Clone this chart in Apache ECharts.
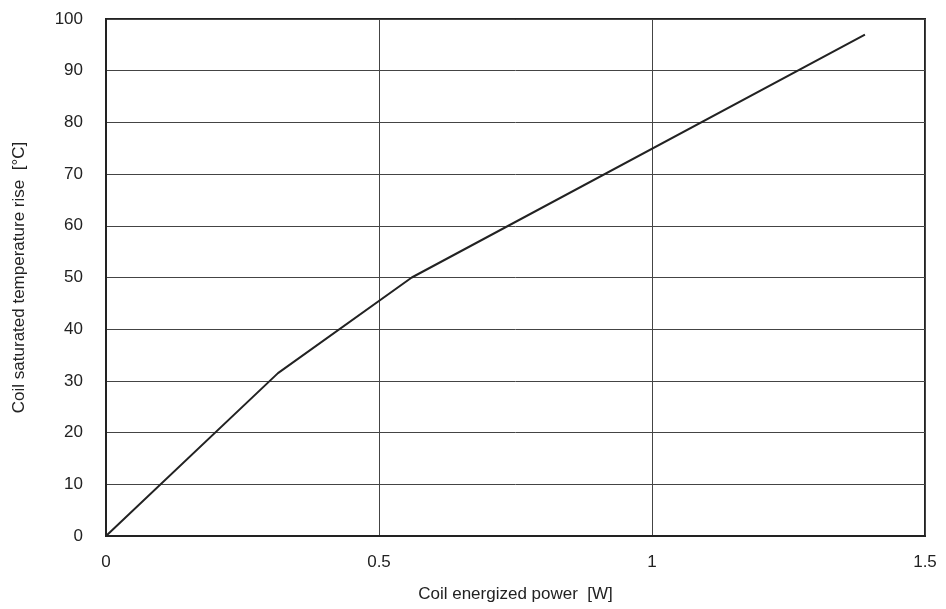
<!DOCTYPE html>
<html>
<head>
<meta charset="utf-8">
<script src="https://cdn.jsdelivr.net/npm/echarts@6/dist/echarts.min.js"></script>
<style>html,body{margin:0;padding:0;background:#fff}#c{width:946px;height:609px}</style>
</head>
<body>
<div id="c"></div>
<script>
const powerW = [0, 0.315, 0.56, 1.39];
const tempRise = [0, 31.5, 50, 97];
const xTicks = [0, 0.5, 1, 1.5];
const yTicks = [0, 10, 20, 30, 40, 50, 60, 70, 80, 90, 100];
const xTitle = 'Coil energized power  [W]';
const yTitle = 'Coil saturated temperature rise  [°C]';

const chart = echarts.init(document.getElementById('c'), null, {renderer: 'canvas'});
const font = {fontFamily: 'Liberation Sans, Arial, sans-serif', fontSize: 17, color: '#222'};
chart.setOption({
  animation: false,
  backgroundColor: '#fff',
  grid: {left: 106, right: 21, top: 19, bottom: 73, show: true, borderColor: '#222', borderWidth: 2, backgroundColor: 'transparent'},
  xAxis: {
    type: 'value', min: xTicks[0], max: xTicks[xTicks.length-1], interval: 0.5,
    name: xTitle, nameLocation: 'middle', nameGap: 50,
    nameTextStyle: font,
    axisLine: {show: true, lineStyle: {color: '#222', width: 2}},
    axisTick: {show: false},
    axisLabel: Object.assign({margin: 18, formatter: v => String(v)}, font),
    splitLine: {show: true, lineStyle: {color: '#444', width: 1}}
  },
  yAxis: {
    type: 'value', min: yTicks[0], max: yTicks[yTicks.length-1], interval: 10,
    name: yTitle, nameLocation: 'middle', nameGap: 78,
    nameTextStyle: font,
    axisLine: {show: true, lineStyle: {color: '#222', width: 2}},
    axisTick: {show: false},
    axisLabel: Object.assign({margin: 23}, font),
    splitLine: {show: true, lineStyle: {color: '#444', width: 1}}
  },
  series: [{
    type: 'line',
    data: powerW.map((x, i) => [x, tempRise[i]]),
    symbol: 'none',
    lineStyle: {color: '#222', width: 2},
    z: 5
  }]
});
</script>
</body>
</html>
